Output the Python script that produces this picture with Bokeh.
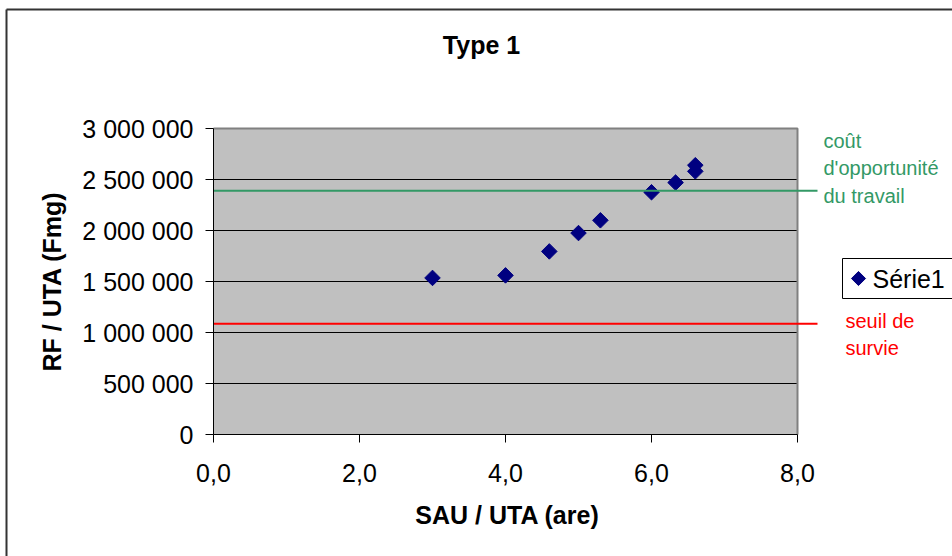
from bokeh.plotting import figure
from bokeh.models import Range1d, FixedTicker, CustomJSTickFormatter, Label
from bokeh.embed import file_html
from bokeh.resources import INLINE
import math

# ---- data ----
sau_uta = [3.0, 4.0, 4.6, 5.0, 5.3, 6.0, 6.33, 6.6, 6.6]
rf_uta = [1535000, 1560000, 1795000, 1975000, 2100000, 2375000, 2470000, 2580000, 2640000]
seuil_survie = 1085000
cout_opportunite = 2390000
x_ticks = [0, 2, 4, 6, 8]
y_ticks = [0, 500000, 1000000, 1500000, 2000000, 2500000, 3000000]
x_min, x_max = 0, 8
y_min, y_max = 0, 3000000
series_name = "Série1"
title_text = "Type 1"
x_label = "SAU / UTA (are)"
y_label = "RF / UTA (Fmg)"
cout_lines = ["coût", "d'opportunité", "du travail"]
seuil_lines = ["seuil de", "survie"]

FONT = "Liberation Sans"
W, H = 952, 556
# plot area in page pixels
PA_L, PA_R, PA_T, PA_B = 213, 797, 128, 434


def dx(px):
    return x_min + (px - PA_L) * (x_max - x_min) / (PA_R - PA_L)


def dy(py):
    return y_min + (PA_B - py) * (y_max - y_min) / (PA_B - PA_T)


p = figure(width=W, height=H, output_backend="svg", toolbar_location=None,
           x_range=Range1d(dx(0), dx(W)), y_range=Range1d(dy(H), dy(0)),
           min_border=0, min_border_left=0, min_border_right=0,
           min_border_top=0, min_border_bottom=0)
p.background_fill_color = "white"
p.border_fill_color = "white"
p.outline_line_color = None
p.grid.visible = False

# outer chart border (left and top edges visible)
p.segment(x0=[dx(6), dx(6)], y0=[dy(H + 5), dy(9)], x1=[dx(6), dx(W + 5)], y1=[dy(9), dy(9)],
          line_color="#333333", line_width=2)

# plot area background
p.quad(left=[x_min], right=[x_max], bottom=[y_min], top=[y_max],
       fill_color="#C0C0C0", line_color=None)
# horizontal gridlines
gy = y_ticks[1:-1]
p.segment(x0=[x_min] * len(gy), y0=gy, x1=[x_max] * len(gy), y1=gy,
          line_color="#000000", line_width=1)
# gray top/right border of plot area
p.line(x=[x_min, x_max, x_max], y=[y_max, y_max, y_min], line_color="#808080", line_width=2)

# data series
pts = p.scatter(sau_uta, rf_uta, marker="square", angle=math.pi / 4, size=11,
                fill_color="#000080", line_color="#000080")

# threshold lines (drawn over the series, extend slightly beyond the plot area)
line_end = dx(817)
p.segment(x0=[x_min], y0=[cout_opportunite], x1=[line_end], y1=[cout_opportunite],
          line_color="#339966", line_width=2)
p.segment(x0=[x_min], y0=[seuil_survie], x1=[line_end], y1=[seuil_survie],
          line_color="#FF0000", line_width=2)

# axes drawn at fixed locations inside the full-canvas frame
p.xaxis.fixed_location = y_min
p.yaxis.fixed_location = x_min
p.xaxis.ticker = FixedTicker(ticks=x_ticks)
p.yaxis.ticker = FixedTicker(ticks=y_ticks)
p.xaxis.bounds = (x_min, x_max)
p.yaxis.bounds = (y_min, y_max)
p.xaxis.formatter = CustomJSTickFormatter(code="return tick.toFixed(1).replace('.', ',');")
p.yaxis.formatter = CustomJSTickFormatter(
    code="return tick.toFixed(0).replace(/\\B(?=(\\d{3})+(?!\\d))/g, ' ');")
for ax in (p.xaxis[0], p.yaxis[0]):
    ax.axis_line_color = "#000000"
    ax.axis_line_width = 1
    ax.major_tick_line_color = "#000000"
    ax.major_tick_in = 0
    ax.major_tick_out = 8
    ax.minor_tick_line_color = None
    ax.major_label_text_font = FONT
    ax.major_label_text_font_size = "25px"
    ax.major_label_text_color = "#000000"
p.xaxis.major_label_standoff = 21
p.yaxis.major_label_standoff = 12

# axis titles
p.add_layout(Label(x=dx(507), y=dy(514), text=x_label, text_font=FONT,
                   text_font_size="25px", text_font_style="bold", text_color="#000000",
                   text_baseline="middle", text_align="center"))
p.add_layout(Label(x=dx(51), y=dy(281), text=y_label, text_font=FONT, angle=math.pi / 2,
                   text_font_size="25px", text_font_style="bold", text_color="#000000",
                   text_baseline="middle", text_align="center"))
# chart title
p.add_layout(Label(x=dx(481), y=dy(44), text=title_text, text_font=FONT,
                   text_font_size="25px", text_font_style="bold", text_color="#000000",
                   text_baseline="middle", text_align="center"))

# threshold annotations
for txt, py in zip(cout_lines, [140, 167, 195]):
    p.add_layout(Label(x=dx(823), y=dy(py), text=txt, text_font=FONT, text_font_size="20px",
                       text_color="#339966", text_baseline="middle", text_align="left"))
for txt, py in zip(seuil_lines, [320, 347]):
    p.add_layout(Label(x=dx(845), y=dy(py), text=txt, text_font=FONT, text_font_size="20px",
                       text_color="#FF0000", text_baseline="middle", text_align="left"))

# legend (box, swatch, label)
p.quad(left=[dx(842)], right=[dx(W + 20)], top=[dy(258)], bottom=[dy(298)],
       fill_color="white", line_color="#000000", line_width=1)
p.scatter([dx(858)], [dy(278)], marker="square", angle=math.pi / 4, size=10,
          fill_color="#000080", line_color="#000080")
p.add_layout(Label(x=dx(872), y=dy(278), text=series_name, text_font=FONT,
                   text_font_size="25px", text_color="#000000",
                   text_baseline="middle", text_align="left"))

open("out.html", "w").write(file_html(p, INLINE))
